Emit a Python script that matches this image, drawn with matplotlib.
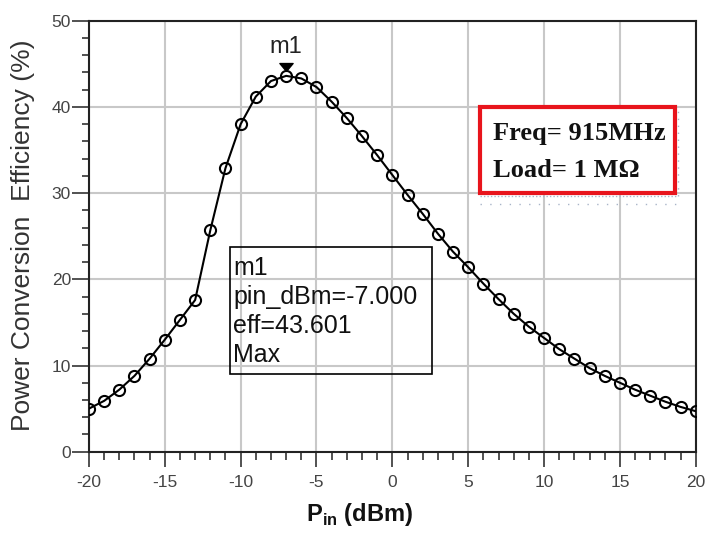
import matplotlib
matplotlib.use('Agg')
import matplotlib.pyplot as plt
import matplotlib.transforms as mtransforms
from matplotlib.patches import Rectangle
from matplotlib.path import Path
import numpy as np

plt.rcParams['font.family'] = ['Liberation Sans', 'DejaVu Sans']
plt.rcParams['mathtext.fontset'] = 'custom'
plt.rcParams['mathtext.bf'] = 'Liberation Sans:bold'
plt.rcParams['mathtext.rm'] = 'Liberation Sans'
plt.rcParams['axes.unicode_minus'] = False

# input power sweep (dBm) and power conversion efficiency (%)
pin = list(range(-20, 21))
eff = [5.0, 5.9, 7.2, 8.8, 10.8, 13.0, 15.3, 17.6, 25.7, 32.9,
       38.0, 41.2, 43.0, 43.6, 43.3, 42.3, 40.6, 38.7, 36.6, 34.4,
       32.1, 29.8, 27.6, 25.3, 23.2, 21.4, 19.5, 17.7, 16.0, 14.5,
       13.2, 11.9, 10.8, 9.7, 8.8, 8.0, 7.2, 6.5, 5.8, 5.2, 4.7]
xticks = [-20, -15, -10, -5, 0, 5, 10, 15, 20]
yticks = [0, 10, 20, 30, 40, 50]
marker_lines = ['m1', 'pin_dBm=-7.000', 'eff=43.601', 'Max']
cond_lines = ['Freq= 915MHz', 'Load= 1 M\u03a9']

fig = plt.figure(figsize=(7.14, 5.37), dpi=100)
ax = fig.add_axes([0.1246, 0.1588, 0.8498, 0.8027])

ax.plot(pin, eff, color='black', lw=1.5, marker='o', ms=8,
        mfc='none', mec='black', mew=1.5, zorder=3)

# marker m1 at the maximum
i_max = int(np.argmax(eff))
tri = Path([(-1, 0.6), (1, 0.6), (0, -0.6), (-1, 0.6)],
           [Path.MOVETO, Path.LINETO, Path.LINETO, Path.CLOSEPOLY])
trans = mtransforms.offset_copy(ax.transData, fig=fig, x=0, y=6.5, units='points')
ax.plot(pin[i_max], eff[i_max], marker=tri, ms=9.5, color='black',
        transform=trans, zorder=4, clip_on=False)
ax.annotate('m1', xy=(pin[i_max], eff[i_max]), xytext=(0, 21),
            textcoords='offset points', ha='center', va='center',
            fontsize=17, color='#222222')

ax.set_xlim(-20, 20)
ax.set_ylim(0, 50)
ax.set_xticks(xticks)
ax.set_yticks(yticks)
ax.set_xticks(range(-20, 21), minor=True)
ax.set_yticks(range(0, 51, 2), minor=True)
ax.grid(True, which='major', color='#c8c8c8', lw=1.5, zorder=0)
ax.tick_params(axis='x', which='major', length=11, width=1.1, pad=6,
               labelsize=12.5, labelcolor='#444444', color='#222222')
ax.tick_params(axis='x', which='minor', length=6, width=1.1, color='#222222')
ax.tick_params(axis='y', which='major', length=12, width=1.1, pad=1,
               labelsize=12.5, labelcolor='#444444', color='#222222')
ax.tick_params(axis='y', which='minor', length=5, width=1.1, color='#222222')
for s in ax.spines.values():
    s.set_linewidth(1.5)
    s.set_color('#222222')

fig.text(0.5042, 0.0410, r'$\mathbf{P}_{\mathbf{in}}$ (dBm)', ha='center', va='center',
         fontsize=17, fontweight='bold', color='#111111')
fig.text(0.032, 0.561, 'Power Conversion  Efficiency (%)', rotation=90,
         ha='center', va='center', fontsize=19, color='#333333')

# marker readout box (no fill, grid shows through)
ax.add_patch(Rectangle((0.2324, 0.1803), 0.3325, 0.2953, transform=ax.transAxes,
                       fill=False, ec='black', lw=1.2, zorder=5))
for k, line in enumerate(marker_lines):
    ax.text(0.2374, 0.410 - k * 0.0673, line, transform=ax.transAxes,
            ha='left', va='baseline', fontsize=18, color='#111111', zorder=6)

# simulation conditions box
ax.plot([0.6444, 0.9690], [0.593, 0.593], transform=ax.transAxes, ls=(0, (1, 1.5)),
        color='#a8b4c8', lw=1, zorder=5, clip_on=False)
ax.plot([0.6444, 0.9690], [0.574, 0.574], transform=ax.transAxes, ls=(0, (1, 6)),
        color='#a8b4c8', lw=1, zorder=5, clip_on=False)
ax.plot([0.9700, 0.9700], [0.593, 0.80], transform=ax.transAxes, ls=(0, (1, 4)),
        color='#a8b4c8', lw=1, zorder=5, clip_on=False)
ax.add_patch(Rectangle((0.6444, 0.5995), 0.3214, 0.2010, transform=ax.transAxes,
                       fill=True, fc='white', ec='#e8141c', lw=3, zorder=6))
for k, line in enumerate(cond_lines):
    ax.text(0.6664, 0.7232 - k * 0.0852, line, transform=ax.transAxes,
            ha='left', va='baseline', fontsize=19, fontweight='bold',
            family=['Liberation Serif', 'DejaVu Serif'], color='#111111', zorder=7)

fig.savefig('out.png', dpi=100)
